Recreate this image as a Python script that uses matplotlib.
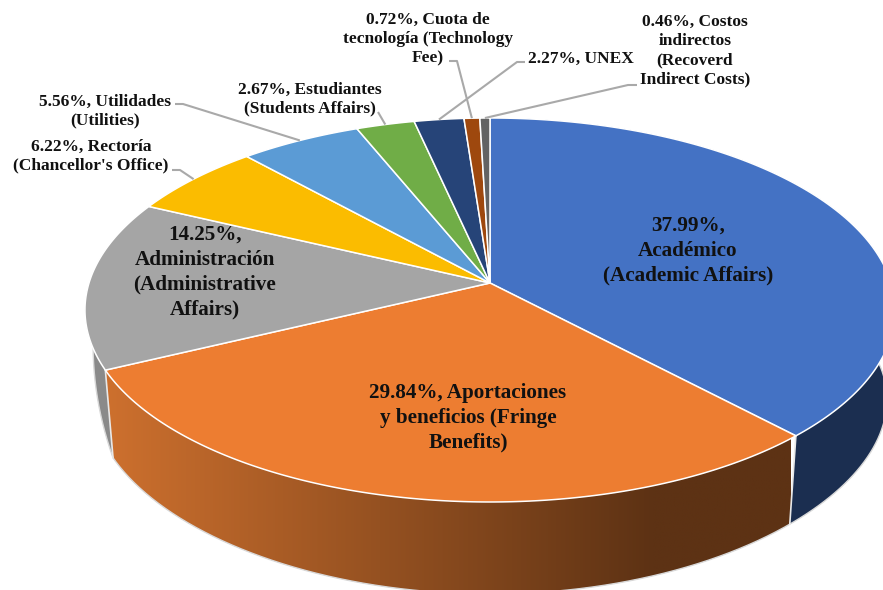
import numpy as np
import matplotlib
matplotlib.use('Agg')
import matplotlib.pyplot as plt
from matplotlib.patches import Polygon

# Valores del gráfico (porcentajes), en sentido horario desde arriba
valores = [37.99, 29.84, 14.25, 6.22, 5.56, 2.67, 2.27, 0.72, 0.46]
etiquetas = [
    "37.99%,\nAcadémico\n(Academic Affairs)",
    "29.84%, Aportaciones\ny beneficios (Fringe\nBenefits)",
    "14.25%,\nAdministración\n(Administrative\nAffairs)",
    "6.22%, Rectoría\n(Chancellor's Office)",
    "5.56%, Utilidades\n(Utilities)",
    "2.67%, Estudiantes\n(Students Affairs)",
    "2.27%, UNEX",
    "0.72%, Cuota de\ntecnología (Technology\nFee)",
    "0.46%, Costos\nindirectos\n(Recoverd\nIndirect Costs)",
]
colores = ['#4472C4', '#ED7D31', '#A5A5A5', '#FBBC00', '#5B9BD5',
           '#70AD47', '#264478', '#9E480E', '#636363']

# Geometría de la perspectiva (píxeles)
CX, CY = 490, 283
RX, RY, P = 401, 188.2, 0.1406
# La base tiene su propia perspectiva, más acusada hacia el frente
ESCALA_BASE, YB, RYB, PB = 0.98, 374, 176, 0.2


def punto(theta, base=False):
    s, c = np.sin(theta), np.cos(theta)
    w = 1 + P * c
    x = CX + RX * s / w
    y = CY - RY * c / w
    if base:
        x = CX + ESCALA_BASE * (x - CX)
        y = YB - RYB * c / (1 + PB * c)
    return x, y


def arco(t0, t1, base=False):
    t = np.linspace(t0, t1, 200)
    return np.column_stack(punto(t, base))


fig = plt.figure(figsize=(8.83, 5.9), dpi=100)
ax = fig.add_axes([0, 0, 1, 1])

limites = np.cumsum([0] + valores) / sum(valores) * 2 * np.pi

# Paredes laterales: naranja con degradado, azul y gris oscuros
t0, t1 = limites[1], limites[2]
pared = np.vstack([arco(t0, t1), arco(t0, t1, True)[::-1]])
contorno = Polygon(pared, closed=True, fc='none', ec='none', transform=ax.transData)
ax.add_patch(contorno)
gx = np.linspace(0, 1, 256)
oscuro = np.array([93, 50, 20]) / 255
claro = np.array([205, 112, 46]) / 255
mezcla = np.clip(gx / 0.80, 0, 1)[:, None]
degradado = (claro * (1 - mezcla) + oscuro * mezcla)[None, :, :]
img = ax.imshow(degradado, extent=[106, 791, 600, 360], aspect='auto', zorder=1)
img.set_clip_path(contorno)

t0, t1 = limites[0], limites[1]
base_azul = arco(t0, t1, True)
ax.add_patch(Polygon(np.vstack([arco(t0, t1), base_azul[::-1]]),
                     fc='#1B2E50', ec='none', zorder=1))

# La pared gris termina en el borde izquierdo, un poco por encima de la base teórica
t0 = limites[2]
base_gris = arco(t0, np.radians(262), True)
base_gris[:, 1] -= 55 * np.linspace(0, 1, len(base_gris))
ax.add_patch(Polygon(np.vstack([arco(t0, np.radians(268)), base_gris[::-1]]),
                     fc='#8A8A8A', ec='none', zorder=1))

# Contorno claro de la base y separaciones entre paredes
base = np.vstack([base_azul, arco(limites[1], limites[2], True), base_gris])
ax.plot(base[:, 0], base[:, 1], color='#D8D8D8', lw=1, zorder=2)
for lim in limites[1:3]:
    xa, ya = punto(lim)
    xb, yb = punto(lim, True)
    ax.plot([xa, xb], [ya, yb], color='#E8E8E8', lw=1.2, zorder=2)

# Cara superior
for i, color in enumerate(colores):
    pts = np.vstack([[CX, CY], arco(limites[i], limites[i + 1])])
    ax.add_patch(Polygon(pts, closed=True, fc=color, ec='white', lw=1.1,
                         joinstyle='round', zorder=3))

# Posición de cada etiqueta (x, y centro, tamaño)
pos_etiquetas = [(688, 251, 15.2), (468, 418, 15.2), (205, 272, 15.2),
                 (91, 156, 12.5), (105, 111, 12.5), (310, 99, 12.5),
                 (581, 59, 12.5), (428, 39, 12.5), (695, 51, 12.5)]
interlineas = [1.33, 1.33, 1.33, 1.26, 1.26, 1.26, 1.0, 1.26, 1.26]
for txt, (x, y, t), il in zip(etiquetas, pos_etiquetas, interlineas):
    ax.text(x, y, txt, ha='center', va='center', fontsize=t, fontweight='bold',
            family='Liberation Serif', color='#111111', linespacing=il, zorder=5)

# Líneas guía: inicio junto a la etiqueta, codo y llegada al centro del arco
guias = {3: [(172, 170), (180, 170)], 4: [(175, 104), (183, 104)], 5: [(378, 112)],
         6: [(525, 62), (517, 62)], 7: [(449, 61), (457, 61)], 8: [(637, 85), (628, 85)]}
for i, tramo in guias.items():
    medio = (limites[i] + limites[i + 1]) / 2
    xs = [p[0] for p in tramo] + [float(punto(medio)[0])]
    ys = [p[1] for p in tramo] + [float(punto(medio)[1])]
    ax.plot(xs, ys, color='#A9A9A9', lw=1.5, zorder=4, solid_capstyle='butt')

ax.set_xlim(0, 883)
ax.set_ylim(590, 0)
ax.axis('off')
fig.savefig('out.png', dpi=100)
